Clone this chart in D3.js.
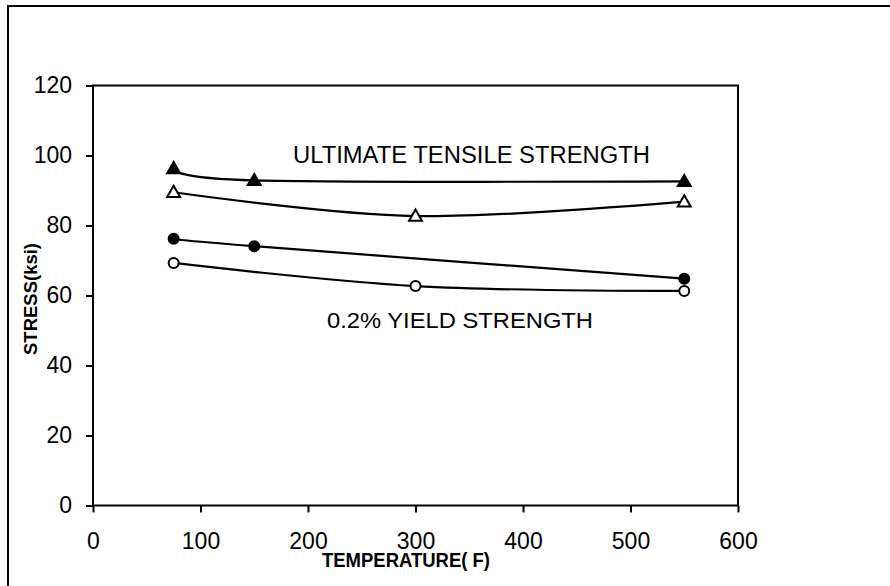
<!DOCTYPE html>
<html>
<head>
<meta charset="utf-8">
<script src="https://cdn.jsdelivr.net/npm/d3@7"></script>
<style>
  html, body { margin: 0; padding: 0; background: #fff; }
  svg { display: block; }
  text { font-family: "Liberation Sans", Arial, sans-serif; fill: #000; }
</style>
</head>
<body>
<svg id="chart" width="890" height="586"></svg>
<script>
// Tensile test results vs. temperature
const xTicks = [0, 100, 200, 300, 400, 500, 600];
const yTicks = [0, 20, 40, 60, 80, 100, 120];

// Ultimate tensile strength (two specimen sets)
const utsFilledTemp = [75, 150, 550];
const utsFilledStress = [96.3, 92.9, 92.6];
const utsOpenTemp = [75, 300, 550];
const utsOpenStress = [89.5, 82.7, 86.8];

// 0.2% yield strength (two specimen sets)
const ysFilledTemp = [75, 150, 550];
const ysFilledStress = [76.2, 74.1, 64.8];
const ysOpenTemp = [75, 300, 550];
const ysOpenStress = [69.3, 62.7, 61.3];

const series = [
  { temp: utsFilledTemp, stress: utsFilledStress, shape: "triangle", filled: true },
  { temp: utsOpenTemp, stress: utsOpenStress, shape: "triangle", filled: false },
  { temp: ysFilledTemp, stress: ysFilledStress, shape: "circle", filled: true },
  { temp: ysOpenTemp, stress: ysOpenStress, shape: "circle", filled: false }
];

const svg = d3.select("#chart");
const plot = { left: 93, right: 738, top: 85.5, bottom: 505.5 };

const x = d3.scaleLinear().domain([0, 600]).range([plot.left, plot.right]);
const y = d3.scaleLinear().domain([0, 120]).range([plot.bottom, plot.top]);

// outer frame
svg.append("path")
  .attr("d", "M8,590 L8,6 L894,6")
  .attr("fill", "none").attr("stroke", "#000").attr("stroke-width", 2);

// plot box
svg.append("rect")
  .attr("x", plot.left).attr("y", plot.top)
  .attr("width", plot.right - plot.left).attr("height", plot.bottom - plot.top)
  .attr("fill", "none").attr("stroke", "#000").attr("stroke-width", 2);

// axes
const yAxis = svg.append("g")
  .attr("transform", `translate(${plot.left},0)`)
  .call(d3.axisLeft(y).tickValues(yTicks).tickSize(7).tickPadding(14).tickSizeOuter(0));
const xAxis = svg.append("g")
  .attr("transform", `translate(0,${plot.bottom})`)
  .call(d3.axisBottom(x).tickValues(xTicks).tickSize(7).tickPadding(20).tickSizeOuter(0));

[yAxis, xAxis].forEach(g => {
  g.select(".domain").remove();
  g.selectAll(".tick line").attr("stroke", "#000").attr("stroke-width", 2);
  g.selectAll(".tick text")
    .style("font-family", "'Liberation Sans', Arial, sans-serif")
    .style("font-size", "23px")
    .attr("fill", "#000");
});

// smoothed series lines
const line = d3.line()
  .x(d => x(d[0]))
  .y(d => y(d[1]))
  .curve(d3.curveCardinal);

series.forEach(s => {
  const pts = s.temp.map((t, i) => [t, s.stress[i]]);
  svg.append("path")
    .datum(pts)
    .attr("d", line)
    .attr("fill", "none")
    .attr("stroke", "#000")
    .attr("stroke-width", 2.2);
});

// markers
const tri = d3.symbol().type(d3.symbolTriangle).size(72);
series.forEach(s => {
  const pts = s.temp.map((t, i) => [t, s.stress[i]]);
  const g = svg.append("g");
  if (s.shape === "triangle") {
    g.selectAll("path").data(pts).join("path")
      .attr("d", tri)
      .attr("transform", d => `translate(${x(d[0])},${y(d[1]) + 1})`)
      .attr("fill", s.filled ? "#000" : "#fff")
      .attr("stroke", "#000").attr("stroke-width", 2);
  } else {
    g.selectAll("circle").data(pts).join("circle")
      .attr("cx", d => x(d[0])).attr("cy", d => y(d[1]))
      .attr("r", 5)
      .attr("fill", s.filled ? "#000" : "#fff")
      .attr("stroke", "#000").attr("stroke-width", 2);
  }
});

// annotations
svg.append("text")
  .attr("x", 293).attr("y", 163)
  .attr("textLength", 357).attr("lengthAdjust", "spacingAndGlyphs")
  .style("font-size", "23.5px")
  .text("ULTIMATE TENSILE STRENGTH");

svg.append("text")
  .attr("x", 327).attr("y", 328)
  .attr("textLength", 266).attr("lengthAdjust", "spacingAndGlyphs")
  .style("font-size", "22.5px")
  .text("0.2% YIELD STRENGTH");

// axis titles
svg.append("text")
  .attr("transform", "translate(37,299) rotate(-90)")
  .attr("text-anchor", "middle")
  .attr("textLength", 112).attr("lengthAdjust", "spacingAndGlyphs")
  .style("font-size", "19px").style("font-weight", "bold")
  .text("STRESS(ksi)");

svg.append("text")
  .attr("x", 322).attr("y", 567)
  .attr("textLength", 168).attr("lengthAdjust", "spacingAndGlyphs")
  .style("font-size", "21px").style("font-weight", "bold")
  .text("TEMPERATURE( F)");
</script>
</body>
</html>
